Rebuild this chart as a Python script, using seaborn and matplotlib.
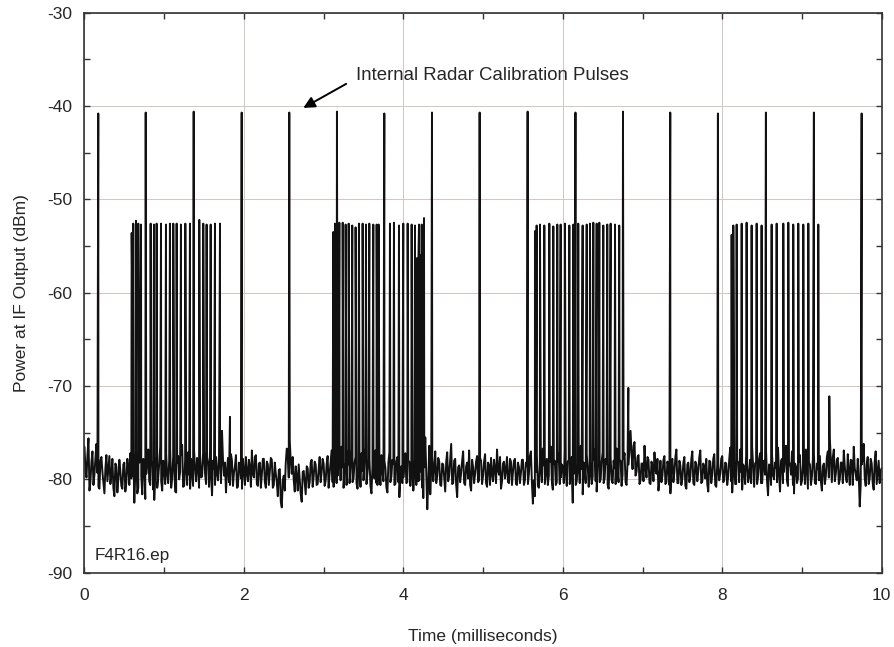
import numpy as np
import pandas as pd
import matplotlib
matplotlib.use("Agg")
import matplotlib.pyplot as plt
from matplotlib.ticker import MultipleLocator
import seaborn as sns

# Receiver noise floor on the 0.025 ms grid, 0 to 10 ms (dBm)
NOISE_STEP_MS = 0.025
noise_db = [
    -76.5, -79.8, -75.6, -80.2, -77.0, -79.5, -76.2, -80.8, -78.0, -79.2, -81.5, -77.4, -78.9, -80.5, -77.8, -81.8, -78.6, -80.0, -79.1, -81.0,
    -78.2, -80.3, -78.7, -77.2, -79.6, -82.5, -77.0, -80.9, -76.4, -81.6, -78.1, -79.4, -76.8, -80.6, -78.5, -82.2, -77.6, -79.8, -76.5, -81.2,
    -78.9, -77.3, -80.4, -76.7, -79.9, -78.1, -81.4, -77.5, -79.2, -76.3, -80.7, -78.4, -77.1, -81.0, -79.3, -76.9, -80.2, -78.6, -77.4, -79.7,
    -77.0, -80.5, -78.3, -76.8, -81.7, -78.9, -77.6, -80.1, -77.2, -74.8, -79.6, -81.4, -77.7, -80.6, -78.0, -79.3, -77.4, -80.8, -78.5, -81.0,
    -79.0, -77.6, -80.2, -78.7, -76.9, -79.8, -77.4, -80.7, -78.2, -79.5, -77.8, -80.9, -78.4, -79.1, -77.9, -80.6, -79.4, -81.8, -78.9, -83.0,
    -79.6, -78.2, -77.0, -75.8, -79.4, -80.1, -78.6, -81.2, -80.0, -82.4, -79.1, -81.6, -78.8, -80.3, -77.9, -79.7, -78.4, -80.5, -77.6, -79.2,
    -78.3, -80.2, -77.5, -79.4, -76.9, -80.8, -78.1, -79.6, -77.3, -76.5, -80.9, -78.2, -77.0, -80.4, -76.8, -79.9, -77.6, -81.0, -78.4, -77.2,
    -80.1, -76.6, -79.3, -77.9, -81.5, -78.0, -76.9, -80.6, -79.0, -77.4, -80.2, -78.8, -81.4, -77.1, -79.7, -78.3, -80.5, -77.6, -81.9, -78.6,
    -79.8, -77.2, -80.3, -78.1, -79.5, -81.2, -77.9, -78.6, -80.1, -79.2, -82.0, -75.5, -83.2, -76.4, -78.9, -80.2, -77.0, -79.6, -78.1, -80.7,
    -78.4, -81.3, -77.1, -79.6, -76.2, -80.4, -77.8, -81.9, -78.5, -79.3, -77.0, -80.6, -78.2, -76.9, -81.2, -78.7, -79.4, -77.5, -80.1, -78.0,
    -79.6, -77.3, -80.8, -78.5, -77.7, -80.2, -78.9, -76.8, -79.5, -81.0, -78.3, -79.9, -77.6, -80.4, -78.1, -79.2, -77.8, -80.6, -78.7, -79.3,
    -77.9, -80.1, -78.6, -79.4, -77.0, -82.6, -81.8, -77.4, -80.9, -78.2, -76.7, -80.5, -77.8, -79.6, -76.5, -81.1, -78.0, -80.3, -77.2, -79.8,
    -78.6, -76.9, -80.7, -77.9, -79.3, -82.5, -77.4, -80.2, -78.5, -76.4, -81.6, -78.9, -77.3, -80.8, -78.1, -79.7, -76.8, -81.3, -78.4, -80.0,
    -77.1, -79.9, -78.3, -81.0, -77.6, -80.4, -78.8, -76.7, -80.3, -78.0, -79.5, -77.2, -80.6, -78.4, -74.8, -78.9, -76.0, -79.2, -77.4, -80.1,
    -78.3, -76.4, -79.8, -77.9, -80.5, -78.6, -77.1, -79.4, -81.2, -78.0, -79.6, -77.5, -80.3, -78.7, -81.5, -77.8, -79.2, -76.8, -80.4, -78.5,
    -79.9, -77.6, -81.0, -78.2, -79.7, -77.0, -80.6, -78.4, -79.1, -76.9, -80.2, -78.7, -77.8, -81.3, -78.1, -79.5, -77.3, -80.8, -78.6, -79.4,
    -77.5, -80.1, -78.3, -79.7, -76.6, -81.4, -77.9, -80.5, -78.2, -76.8, -81.1, -78.7, -77.4, -80.3, -77.9, -76.5, -80.8, -78.1, -79.6, -77.2,
    -80.4, -78.0, -76.9, -81.7, -78.5, -77.3, -80.0, -78.8, -76.6, -81.3, -77.8, -79.2, -76.4, -80.7, -78.3, -77.0, -81.5, -78.6, -79.9, -77.4,
    -80.2, -78.1, -76.8, -81.0, -78.4, -79.7, -77.2, -80.5, -78.9, -77.5, -81.2, -78.3, -79.6, -77.0, -75.6, -80.3, -76.8, -79.4, -77.7, -80.0,
    -78.2, -76.9, -79.8, -77.3, -80.6, -78.0, -76.5, -79.5, -77.8, -82.9, -78.4, -76.2, -80.7, -77.6, -79.9, -78.3, -81.1, -77.0, -79.2, -80.4,
    -78.8,
]

# Noise floor samples taken halfway between the grid samples above (dBm)
noise_mid_db = [
    -78.9, -77.4, -81.2, -78.1, -80.6, -77.7, -79.3, -81.0, -77.6, -80.4, -78.8, -80.2, -77.5, -79.6, -80.9, -78.3, -81.4, -77.9, -80.7, -78.4,
    -81.3, -77.8, -80.6, -79.9, -76.9, -79.3, -81.5, -78.2, -79.7, -77.8, -82.1, -77.5, -80.2, -78.0, -81.1, -78.6, -80.9, -78.3, -80.2, -78.0,
    -80.5, -79.6, -78.0, -80.9, -77.6, -81.3, -78.2, -80.0, -77.4, -80.8, -77.9, -80.6, -79.5, -77.8, -80.7, -79.0, -77.7, -80.9, -79.8, -77.2,
    -79.4, -77.6, -80.8, -79.5, -78.0, -80.6, -79.3, -77.5, -80.4, -77.9, -78.2, -79.1, -80.3, -77.3, -80.7, -78.6, -80.9, -78.2, -79.9, -77.8,
    -80.6, -79.3, -77.9, -80.8, -79.4, -77.6, -80.5, -78.3, -80.9, -77.8, -80.3, -78.1, -80.6, -77.7, -80.9, -78.2, -80.3, -79.0, -82.4, -80.1,
    -81.2, -76.7, -79.8, -78.1, -77.6, -81.3, -79.7, -78.4, -81.6, -79.2, -80.4, -78.6, -80.9, -78.2, -80.8, -78.1, -80.6, -78.9, -80.3, -77.8,
    -80.7, -78.4, -80.9, -78.1, -80.3, -77.6, -80.4, -78.2, -80.1, -78.7, -79.2, -80.6, -78.4, -78.7, -80.3, -78.2, -80.4, -78.6, -80.8, -79.1,
    -78.2, -80.5, -77.8, -80.7, -78.6, -79.9, -80.4, -77.9, -80.6, -79.1, -78.0, -80.9, -78.2, -80.3, -77.9, -80.6, -78.1, -80.3, -79.2, -80.4,
    -77.6, -80.4, -78.0, -80.7, -77.9, -79.3, -80.6, -80.2, -77.8, -80.9, -78.7, -79.4, -80.3, -81.6, -77.5, -78.8, -80.4, -77.7, -80.6, -78.3,
    -79.9, -78.1, -80.2, -77.8, -80.5, -78.0, -80.6, -78.7, -80.3, -78.0, -80.4, -78.6, -79.9, -80.6, -77.9, -80.4, -78.1, -80.3, -77.7, -80.5,
    -78.1, -80.4, -78.2, -80.6, -79.4, -77.9, -80.4, -79.0, -77.6, -80.2, -78.1, -79.0, -80.3, -77.8, -80.6, -78.0, -80.5, -78.2, -80.4, -77.9,
    -80.6, -78.2, -80.5, -77.5, -80.3, -80.1, -79.2, -80.7, -78.4, -80.3, -78.5, -79.1, -80.6, -78.1, -80.2, -78.3, -80.6, -78.1, -80.5, -78.4,
    -80.4, -79.2, -78.1, -80.5, -77.6, -79.4, -80.6, -78.3, -80.4, -78.9, -78.2, -80.4, -78.6, -79.2, -80.5, -77.9, -80.2, -78.6, -80.3, -78.1,
    -80.4, -77.8, -80.6, -78.2, -80.1, -78.0, -80.5, -79.3, -77.9, -80.7, -77.8, -80.3, -78.1, -76.6, -77.3, -76.4, -79.6, -77.6, -80.5, -78.3,
    -80.2, -78.8, -77.6, -80.4, -78.1, -80.2, -79.0, -77.8, -79.9, -80.3, -77.9, -80.5, -78.1, -80.6, -78.2, -80.3, -77.6, -80.4, -78.0, -80.6,
    -78.2, -80.7, -78.4, -80.3, -77.8, -80.4, -78.1, -80.2, -77.6, -80.4, -78.3, -79.9, -80.5, -78.0, -80.4, -77.8, -80.6, -78.4, -80.1, -77.8,
    -80.3, -78.2, -80.6, -77.9, -80.2, -78.6, -80.5, -78.0, -80.3, -79.2, -78.4, -80.5, -78.1, -79.7, -80.4, -78.6, -78.3, -80.5, -77.8, -80.4,
    -78.6, -79.5, -80.3, -78.4, -80.6, -79.6, -78.2, -80.3, -79.4, -78.0, -80.4, -77.7, -80.2, -78.5, -79.5, -80.6, -78.3, -80.4, -78.1, -80.6,
    -78.4, -80.5, -79.0, -78.2, -80.6, -77.8, -80.4, -78.3, -80.1, -80.2, -78.6, -80.5, -77.6, -79.8, -77.9, -77.6, -80.2, -77.9, -80.5, -78.2,
    -80.4, -78.6, -80.3, -79.1, -77.9, -80.6, -78.8, -80.1, -79.6, -80.5, -77.8, -79.9, -78.4, -80.5, -77.8, -80.4, -78.1, -80.5, -78.0, -79.1,
]

# Internal radar calibration pulses (ms, dBm)
cal_t = [0.173, 0.768, 1.370, 1.972, 2.569, 3.167, 3.761, 4.359, 4.957,
         5.559, 6.159, 6.755, 7.348, 7.946, 8.548, 9.150, 9.749]
cal_db = [-40.8, -40.7, -40.6, -40.7, -40.7, -40.6, -40.8, -40.7, -40.7,
          -40.6, -40.7, -40.6, -40.7, -40.8, -40.7, -40.7, -40.8]

# Pulse bursts from the interfering radar (ms, dBm)
burst1_t = [0.592, 0.612, 0.646, 0.675, 0.709, 0.830, 0.872, 0.905, 0.960, 1.022, 1.072,
            1.114, 1.156, 1.210, 1.265, 1.323, 1.440, 1.490, 1.532, 1.583, 1.637, 1.700]
burst1_db = [-53.6, -52.6, -52.3, -52.6, -52.7, -52.6, -52.7, -52.6, -52.6, -52.7, -52.6,
             -52.6, -52.6, -52.7, -52.6, -52.6, -52.2, -52.6, -52.7, -52.7, -52.6, -52.6]

burst2_t = [3.121, 3.142, 3.197, 3.239, 3.276, 3.314, 3.359, 3.401, 3.443, 3.489, 3.531, 3.573, 3.623,
            3.665, 3.690, 3.832, 3.882, 3.945, 3.999, 4.054, 4.104, 4.146, 4.196, 4.230, 4.259]
burst2_db = [-53.5, -52.6, -52.5, -52.5, -52.7, -52.6, -52.8, -53.0, -52.6, -52.6, -52.7, -52.6, -52.7,
             -52.7, -52.7, -52.6, -52.5, -52.8, -52.6, -52.6, -52.7, -52.8, -52.7, -52.7, -52.0]

burst3_t = [5.651, 5.672, 5.714, 5.768, 5.831, 5.881, 5.931, 5.973, 6.027, 6.082, 6.132, 6.194,
            6.249, 6.300, 6.341, 6.383, 6.425, 6.458, 6.508, 6.558, 6.600, 6.655, 6.708]
burst3_db = [-53.4, -52.8, -52.7, -52.8, -52.6, -52.9, -52.7, -52.7, -52.6, -52.8, -52.7, -52.6,
             -52.8, -52.7, -52.6, -52.5, -52.6, -52.5, -52.8, -52.7, -52.6, -52.7, -52.8]

burst4_t = [8.118, 8.139, 8.181, 8.244, 8.306, 8.369, 8.432, 8.494, 8.620,
            8.683, 8.766, 8.829, 8.891, 8.954, 9.017, 9.080, 9.205]
burst4_db = [-53.8, -52.8, -52.7, -52.6, -52.5, -52.8, -52.6, -52.8, -52.7,
             -52.6, -52.6, -52.5, -52.7, -52.6, -52.7, -52.6, -52.7]

# Shoulders and trailing echoes around the bursts (ms, dBm)
tail_t = [0.600, 1.825, 4.160, 4.170, 4.180, 4.188, 4.205, 4.212, 4.220, 4.240, 6.822, 9.343]
tail_db = [-61.0, -73.3, -57.2, -56.3, -60.3, -56.8, -59.0, -56.0, -58.2, -60.5, -70.2, -71.1]

x_ticks = [0, 2, 4, 6, 8, 10]
y_ticks = [-90, -80, -70, -60, -50, -40, -30]

# Merge everything into one time series
noise_t = np.arange(len(noise_db)) * NOISE_STEP_MS
noise_mid_t = (np.arange(len(noise_mid_db)) + 0.5) * NOISE_STEP_MS
times = np.concatenate([noise_t, noise_mid_t, cal_t, burst1_t, burst2_t,
                        burst3_t, burst4_t, tail_t])
power = np.concatenate([noise_db, noise_mid_db, cal_db, burst1_db, burst2_db,
                        burst3_db, burst4_db, tail_db])
df = pd.DataFrame({"time": times, "power": power}).sort_values("time").reset_index(drop=True)

sns.set_style("ticks")
plt.rcParams["font.family"] = ["Liberation Sans", "DejaVu Sans"]
plt.rcParams["axes.unicode_minus"] = False

fig = plt.figure(figsize=(8.94, 6.47), dpi=100)
ax = fig.add_axes([0.0945, 0.1148, 0.8917, 0.8656])

sns.lineplot(data=df, x="time", y="power", estimator=None, sort=False,
             color="#111111", linewidth=1.4, ax=ax)

ax.set_xlim(0, 10)
ax.set_ylim(-90, -30)
ax.set_xticks(x_ticks)
ax.set_yticks(y_ticks)
ax.xaxis.set_minor_locator(MultipleLocator(1))
ax.yaxis.set_minor_locator(MultipleLocator(5))
ax.tick_params(which="both", direction="in", top=True, right=True,
               length=4, width=1.0, color="#333333", labelsize=12.5)
ax.tick_params(axis="x", which="major", pad=11)
ax.tick_params(axis="y", which="major", pad=9)
ax.grid(True, which="major", color="#d2c6c0", linewidth=0.7)
ax.set_axisbelow(True)
for s in ax.spines.values():
    s.set_linewidth(1.2)
    s.set_color("#333333")

ax.set_xlabel("Time (milliseconds)", fontsize=12.5, labelpad=19)
ax.set_ylabel("Power at IF Output (dBm)", fontsize=12.5, labelpad=13)

ax.annotate("Internal Radar Calibration Pulses", xy=(2.745, -40.2), xytext=(3.40, -36.7),
            fontsize=13.4, va="center", ha="left",
            arrowprops=dict(arrowstyle="-|>", color="black", lw=1.4,
                            mutation_scale=17, shrinkA=5, shrinkB=0, relpos=(0, 0.3)))
ax.text(0.13, -88.2, "F4R16.ep", fontsize=12.3, va="center", ha="left")

fig.savefig("out.png", dpi=100)
